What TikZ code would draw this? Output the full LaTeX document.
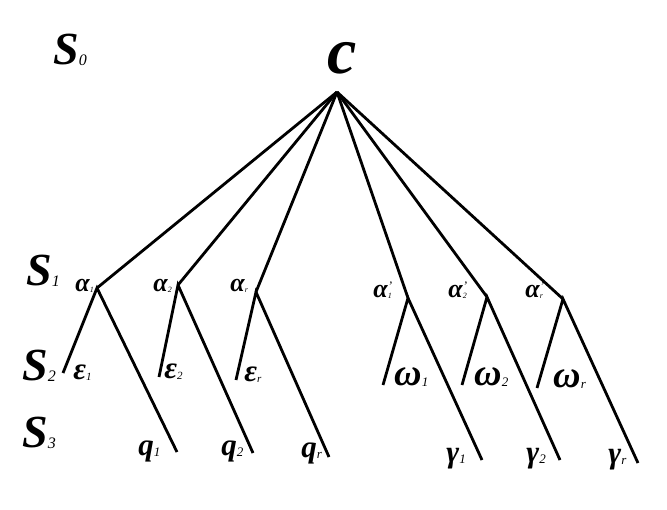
\documentclass[tikz,border=0pt]{standalone}
\usepackage{fontspec}
\setmainfont{Liberation Serif}
\usetikzlibrary{positioning}

\newcommand{\idx}[2]{\raisebox{-1pt}{\fontsize{#1}{#1}\selectfont\mdseries #2}}
\newcommand{\prm}{\rlap{\raisebox{7pt}{\fontsize{13}{13}\selectfont\mdseries '}}}

\begin{document}
\begin{tikzpicture}[x=1pt, y=-1pt, line width=2.8pt,
  lvl/.style={anchor=base west, inner sep=0pt, font=\fontsize{46}{46}\selectfont\bfseries\itshape},
  tag/.style={anchor=base west, inner sep=0pt, font=\fontsize{26}{26}\selectfont\bfseries\itshape},
  leaf/.style={anchor=base west, inner sep=0pt, font=\fontsize{31}{31}\selectfont\bfseries\itshape}]
  \useasboundingbox (0,0) rectangle (667,509);

  % levels
  \node[lvl] (s0) at (52,64)  {S\idx{16}{0}};
  \node[lvl] (s1) at (25,285) {S\idx{16}{1}};
  \node[lvl] (s2) at (21,380) {S\idx{16}{2}};
  \node[lvl] (s3) at (21,447) {S\idx{16}{3}};

  % root
  \node[lvl, font=\fontsize{66}{66}\selectfont\bfseries\itshape] (c) at (326,73) {c};
  \coordinate (root) at (337,92);

  % branch points
  \coordinate (a1) at (97,288);
  \coordinate (a2) at (178,285);
  \coordinate (ar) at (256,292);
  \coordinate (b1) at (408,298);
  \coordinate (b2) at (487,297);
  \coordinate (br) at (563,299);

  % leaf ends
  \coordinate (e1) at (63,373);
  \coordinate (e2) at (159,377);
  \coordinate (er) at (236,380);
  \coordinate (q1) at (177,452);
  \coordinate (q2) at (253,453);
  \coordinate (qr) at (329,457);
  \coordinate (w1) at (383,385);
  \coordinate (w2) at (462,385);
  \coordinate (wr) at (537,388);
  \coordinate (g1) at (482,460);
  \coordinate (g2) at (560,460);
  \coordinate (gr) at (638,463);

  \foreach \n in {a1,a2,ar,b1,b2,br}
    \draw (root) -- (\n);
  \foreach \p/\l/\r in {a1/e1/q1, a2/e2/q2, ar/er/qr, b1/w1/g1, b2/w2/g2, br/wr/gr}
    \draw (\l) -- (\p) -- (\r);

  % labels
  \node[tag] (la1) at (74,291)  {α\idx{8}{1}};
  \node[tag] (la2) at (152,291) {α\idx{8}{2}};
  \node[tag] (lar) at (229,291) {α\idx{8}{r}};
  \node[tag] (lb1) at (372,297) {α\prm\idx{8}{1}};
  \node[tag] (lb2) at (447,297) {α\prm\idx{8}{2}};
  \node[tag] (lbr) at (524,297) {α\prm\idx{8}{r}};

  \node[leaf] (le1) at (72,379)  {ε\idx{11}{1}};
  \node[leaf] (le2) at (163,378) {ε\idx{11}{2}};
  \node[leaf] (ler) at (243,381) {ε\idx{11}{r}};
  \node[leaf] (lq1) at (137,455) {q\idx{13}{1}};
  \node[leaf] (lq2) at (220,455) {q\idx{13}{2}};
  \node[leaf] (lqr) at (300,457) {q\idx{13}{r}};
  \node[leaf, font=\fontsize{38}{38}\selectfont\bfseries\itshape] (lw1) at (393,385) {ω\idx{13}{1}};
  \node[leaf, font=\fontsize{38}{38}\selectfont\bfseries\itshape] (lw2) at (473,385) {ω\idx{13}{2}};
  \node[leaf, font=\fontsize{38}{38}\selectfont\bfseries\itshape] (lwr) at (552,387) {ω\idx{13}{r}};
  \node[leaf] (lg1) at (445,462) {γ\idx{13}{1}};
  \node[leaf] (lg2) at (525,462) {γ\idx{13}{2}};
  \node[leaf] (lgr) at (607,463) {γ\idx{13}{r}};
\end{tikzpicture}
\end{document}
